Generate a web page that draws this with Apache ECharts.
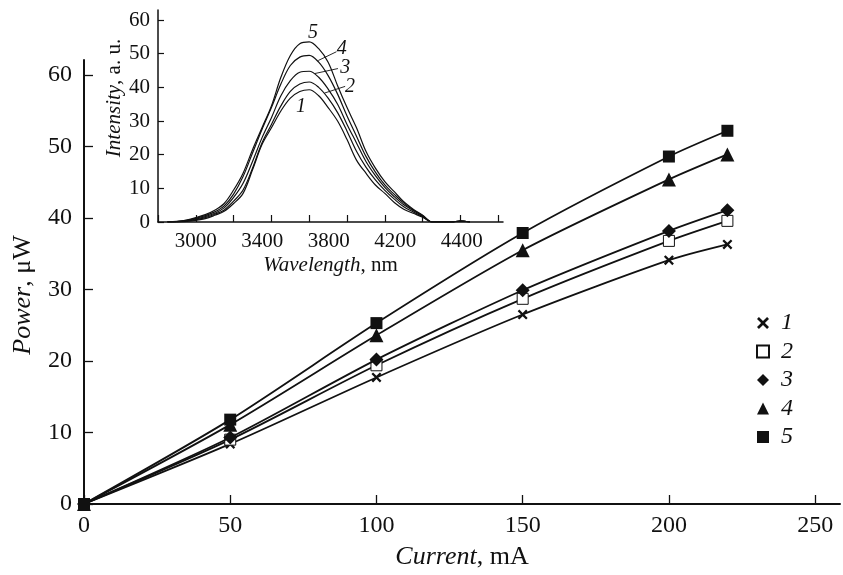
<!DOCTYPE html>
<html>
<head>
<meta charset="utf-8">
<script src="https://cdn.jsdelivr.net/npm/echarts@6/dist/echarts.min.js"></script>
<style>html,body{margin:0;padding:0;background:#fff}#c{width:843px;height:575px}</style>
</head>
<body>
<div id="c"></div>
<script>
// ---- Main chart data ----
var current = [0, 50, 100, 150, 200, 220];
var power1 = [0, 8.4, 17.7, 26.5, 34.1, 36.3];
var power2 = [0, 9.0, 19.4, 28.7, 36.8, 39.6];
var power3 = [0, 9.3, 20.2, 29.9, 38.2, 41.1];
var power4 = [0, 11.1, 23.6, 35.5, 45.4, 48.9];
var power5 = [0, 11.8, 25.3, 37.9, 48.6, 52.2];
var seriesNames = ['1', '2', '3', '4', '5'];
var mainXTicks = [0, 50, 100, 150, 200, 250];
var mainYTicks = [0, 10, 20, 30, 40, 50, 60];

// ---- Inset (spectra) data ----
var wavelength = [2850, 2900, 2950, 3000, 3050, 3100, 3150, 3200, 3250, 3300, 3350, 3400, 3450, 3500, 3550, 3600, 3650, 3700, 3750, 3800, 3850, 3900, 3950, 4000, 4050, 4100, 4150, 4200, 4250, 4300, 4350, 4400, 4450];
var intensity1 = [0, 0, 0.2, 0.5, 1.0, 2.0, 3.2, 5.5, 8.5, 15.5, 23, 28, 33, 36.8, 38.8, 39.3, 37.5, 34, 30, 24.5, 18.4, 14.5, 11, 8.5, 5.8, 3.8, 2.6, 1.4, 0, 0, 0, 0.3, 0];
var intensity2 = [0, 0.05, 0.3, 0.7, 1.3, 2.3, 3.6, 6.2, 9.5, 16, 23.5, 29, 34.5, 38.8, 41, 41.6, 40, 36.8, 32.5, 27, 21, 16.3, 12.5, 9.4, 6.8, 4.5, 3.0, 1.6, 0, 0, 0, 0.3, 0];
var intensity3 = [0, 0.1, 0.4, 0.9, 1.6, 2.6, 4.2, 7.3, 11.5, 18, 25, 31, 37.5, 42, 44.5, 44.8, 43, 39.5, 35, 29, 23.5, 18, 13.8, 10.3, 7.5, 5.1, 3.4, 1.8, 0, 0, 0, 0.3, 0];
var intensity4 = [0, 0.15, 0.5, 1.1, 1.9, 3.0, 4.8, 8.3, 13.5, 20.5, 27.5, 34, 41, 46.5, 49, 49.5, 47.5, 43.5, 38, 31.5, 25.5, 19.5, 14.8, 11, 8.2, 5.6, 3.6, 1.9, 0, 0, 0, 0.3, 0];
var intensity5 = [0, 0.2, 0.6, 1.3, 2.2, 3.5, 5.5, 9.5, 14.5, 21.5, 28, 34.5, 43, 49.5, 53, 53.5, 51.5, 47.5, 40.5, 34, 28, 21, 16, 12, 9, 6.0, 3.8, 2.0, 0, 0, 0, 0.3, 0];
var insetXTicks = [2800, 3000, 3200, 3400, 3600, 3800, 4000, 4200, 4400, 4600];
// tick labels as printed under the inset (evenly spaced in the original figure)
var insetXLabels = ['3000', '3400', '3800', '4200', '4400'];
var insetYTicks = [0, 10, 20, 30, 40, 50, 60];
// curve labels in the inset: [wavelength, intensity, text]
var curveLabels = [[3620, 56.3, '5'], [3772, 51.5, '4'], [3790, 45.7, '3'], [3816, 40.3, '2'], [3557, 34.2, '1']];
// leader lines: [fromW, fromI, toW, toI]
var leaders = [[3744, 50.6, 3648, 48.0], [3752, 45.6, 3628, 44.1], [3790, 40.3, 3680, 38.3]];

var FONT = "'Liberation Serif', 'Times New Roman', Times, serif";
var symbols = [
  'path://M0,1.6L1.6,0L5,3.4L8.4,0L10,1.6L6.6,5L10,8.4L8.4,10L5,6.6L1.6,10L0,8.4L3.4,5Z',
  'rect', 'diamond', 'triangle', 'rect'
];
var symbolSizes = [10, 11, 14, 14, 12];
var fills = ['#111', '#fff', '#111', '#111', '#111'];
var powers = [power1, power2, power3, power4, power5];
var intensities = [intensity1, intensity2, intensity3, intensity4, intensity5];
var plain = function (v) { return String(v); };
// slots for the printed inset labels (label axis runs 0..5.19 across the inset width)
var labelSlots = insetXLabels.map(function (t, i) { return 0.567 + i; });

var series = [];
powers.forEach(function (p, k) {
  series.push({
    name: seriesNames[k], type: 'line', xAxisIndex: 0, yAxisIndex: 0,
    data: current.map(function (c, i) { return [c, p[i]]; }),
    smooth: 0.25, symbol: symbols[k], symbolSize: symbolSizes[k], showSymbol: true,
    lineStyle: { color: '#111', width: 1.8 },
    itemStyle: { color: fills[k], borderColor: '#111', borderWidth: k === 1 ? 1 : 0 },
    z: 2 + k, animation: false
  });
});
intensities.forEach(function (s, k) {
  var ser = {
    name: 'spec' + (k + 1), type: 'line', xAxisIndex: 1, yAxisIndex: 1,
    data: wavelength.map(function (w, i) { return [w, s[i]]; }),
    smooth: 0.35, showSymbol: false, symbol: 'none',
    lineStyle: { color: '#111', width: 1.2 }, animation: false, silent: true
  };
  if (k === 0) {
    ser.markPoint = {
      symbol: 'circle', symbolSize: 0, animation: false,
      label: { show: true, color: '#111', fontFamily: FONT, fontStyle: 'italic', fontSize: 20, position: 'inside' },
      data: curveLabels.map(function (l) { return { coord: [l[0], l[1]], value: l[2], label: { formatter: l[2] } }; })
    };
    ser.markLine = {
      symbol: 'none', silent: true, animation: false,
      lineStyle: { color: '#111', width: 0.9, type: 'solid' }, label: { show: false },
      data: leaders.map(function (l) { return [{ coord: [l[0], l[1]] }, { coord: [l[2], l[3]] }]; })
    };
  }
  series.push(ser);
});

var axisLineMain = { show: true, onZero: false, lineStyle: { color: '#111', width: 2 } };
var axisLineInset = { show: true, onZero: false, lineStyle: { color: '#111', width: 1.5 } };

var option = {
  backgroundColor: '#fff',
  animation: false,
  textStyle: { fontFamily: FONT },
  grid: [
    { left: 84, top: 60, width: 756, height: 448 },
    { left: 158, top: 10, width: 345, height: 212 }
  ],
  legend: {
    orient: 'vertical', left: 751, top: 306, itemGap: 4.5, itemWidth: 12, itemHeight: 12,
    textStyle: { fontFamily: FONT, fontStyle: 'italic', fontSize: 24, color: '#111', padding: [0, 0, 0, 7] },
    data: seriesNames.map(function (n, k) { return { name: n, icon: symbols[k] }; })
  },
  xAxis: [
    {
      type: 'value', gridIndex: 0, min: 0, max: 258.5, position: 'bottom',
      name: '{i|Current}, mA', nameLocation: 'middle', nameGap: 40,
      nameTextStyle: { fontFamily: FONT, fontSize: 26, color: '#111', rich: { i: { fontFamily: FONT, fontStyle: 'italic', fontSize: 26, color: '#111' } } },
      axisLine: axisLineMain,
      axisTick: { show: true, inside: true, length: 9, lineStyle: { color: '#111', width: 1.3 }, customValues: mainXTicks },
      axisLabel: { color: '#111', fontFamily: FONT, fontSize: 24, margin: 10, customValues: mainXTicks, formatter: plain },
      splitLine: { show: false }
    },
    {
      type: 'value', gridIndex: 1, min: 2800, max: 4625, position: 'bottom',
      name: '{i|Wavelength}, nm', nameLocation: 'middle', nameGap: 33,
      nameTextStyle: { fontFamily: FONT, fontSize: 21, color: '#111', rich: { i: { fontFamily: FONT, fontStyle: 'italic', fontSize: 21, color: '#111' } } },
      axisLine: axisLineInset,
      axisTick: { show: true, inside: true, length: 7, lineStyle: { color: '#111', width: 1.2 }, customValues: insetXTicks },
      axisLabel: { show: false },
      splitLine: { show: false }
    },
    {
      type: 'value', gridIndex: 1, min: 0, max: 5.188, position: 'bottom',
      axisLine: { show: false }, axisTick: { show: false }, splitLine: { show: false },
      axisLabel: {
        color: '#111', fontFamily: FONT, fontSize: 21, margin: 9, customValues: labelSlots, hideOverlap: false,
        formatter: function (v) { var i = Math.round(v - 0.567); return insetXLabels[i] || ''; }
      }
    }
  ],
  yAxis: [
    {
      type: 'value', gridIndex: 0, min: 0, max: 62.1,
      name: '{i|Power}, μW', nameLocation: 'middle', nameGap: 48,
      nameTextStyle: { fontFamily: FONT, fontSize: 26, color: '#111', padding: [0, 26, 0, 0], rich: { i: { fontFamily: FONT, fontStyle: 'italic', fontSize: 26, color: '#111' } } },
      axisLine: axisLineMain,
      axisTick: { show: true, inside: true, length: 9, lineStyle: { color: '#111', width: 1.3 }, customValues: mainYTicks },
      axisLabel: { color: '#111', fontFamily: FONT, fontSize: 24, margin: 12, customValues: mainYTicks, formatter: plain },
      splitLine: { show: false }
    },
    {
      type: 'value', gridIndex: 1, min: 0, max: 63,
      name: '{i|Intensity}, a. u.', nameLocation: 'middle', nameGap: 33,
      nameTextStyle: { fontFamily: FONT, fontSize: 21, color: '#111', padding: [0, 0, 0, 36], rich: { i: { fontFamily: FONT, fontStyle: 'italic', fontSize: 21, color: '#111' } } },
      axisLine: axisLineInset,
      axisTick: { show: true, inside: true, length: 6, lineStyle: { color: '#111', width: 1.2 }, customValues: insetYTicks },
      axisLabel: { color: '#111', fontFamily: FONT, fontSize: 21, margin: 8, customValues: insetYTicks, formatter: plain },
      splitLine: { show: false }
    }
  ],
  series: series
};
var chart = echarts.init(document.getElementById('c'), null, { renderer: 'canvas' });
chart.setOption(option);
</script>
</body>
</html>
